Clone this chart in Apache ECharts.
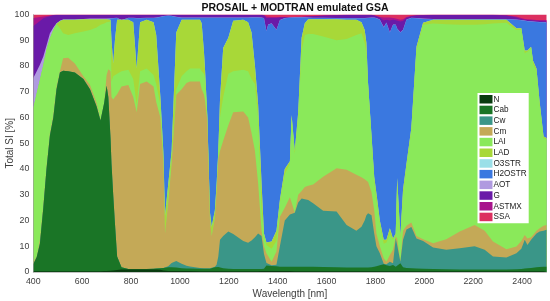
<!DOCTYPE html>
<html><head><meta charset="utf-8">
<style>html,body{margin:0;padding:0;background:#fff}#c{width:550px;height:301px}</style>
<script src="https://cdn.jsdelivr.net/npm/echarts@6/dist/echarts.min.js"></script></head>
<body><div id="c"></div>
<script>
const wavelengths=[400,414,427,441,454,468,482,495,509,522,
543,570,605,632,659,675,690,700,707,716,
720,727,734,743,761,789,809,823,837,864,892,
903,920,932,939,952,966,985,1007,1027,1041,
1082,1089,1098,1102,1112,1116,1123,1130,1143,1150,
1157,1164,1177,1198,1218,1259,1279,1293,1307,1320,
1334,1344,1354,1361,1375,1395,1409,1429,1450,1457,
1470,1484,1498,1511,1525,1545,1586,1641,1682,1722,
1743,1756,1763,1770,1784,1795,1804,1818,1834,1845,
1859,1872,1883,1889,1902,1913,1927,1947,1968,1995,
2036,2090,2145,2206,2247,2281,2336,2377,2397,2411,
2422,2437,2445,2459,2472,2488,2500];
// upper boundary of each stacked band
const topN=[.3,.3,.3,.3,.3,.3,.3,.3,.3,.3,
.3,.3,.3,.3,.3,.3,.4,.4,.4,.5,
.6,.6,.7,.8,1,1,1,1,1,1,1,
1,.9,.6,.5,.4,.4,.4,.4,.4,.4,
.3,.3,.3,.3,.3,.3,.3,.3,.3,.3,
.3,.3,.3,.3,.3,.3,.3,.3,.3,.3,
.4,.4,.4,.4,.4,.4,.4,.4,.4,.4,
.3,.3,.3,.3,.3,.3,.3,.3,.3,.3,
.3,.3,.3,.3,.3,.3,.3,.3,.3,.3,
.3,.3,.3,.3,.3,.3,.3,.3,.3,.3,
.3,.3,.3,.3,.3,.3,.3,.3,.3,.3,
.3,.3,.3,.3,.3,.3,.3];
const topCab=[3,5.8,11,25,40,53,60,71,77.5,78.2,
78,77.5,75,71,64.3,58.8,65.6,72.3,68,52,
42,30,19,6,1.8,1.2,1.2,1.2,1.2,1.2,1.3,
1.4,1.5,1.6,1.7,1.8,1.8,1.7,1.5,1.4,1.4,
1.3,1.3,1.3,1.3,1.3,1.3,1.3,1.5,1.8,1.9,
1.9,1.8,1.5,1.3,1.2,1.2,1.2,1.2,1.2,1.2,
1.2,1.3,2.5,2.9,2.3,2.2,2,2,2,2,
2,2,2,2,2,2,1.9,1.8,1.7,1.7,
1.7,1.7,1.7,1.7,1.8,2,2.2,2.6,3,2.6,
2.3,2.7,2,1.8,3.4,1.8,1.6,1.5,1.4,1.3,
1.2,1.1,1,1,1,1,1,1.1,1.2,1.4,
1.5,1.6,1.7,1.8,1.9,2,2];
const topCw=[3,5.8,11,25,40,53,60,71,77.5,78.2,
78,77.5,75,71,64.3,58.8,65.6,72.3,68,52,
42,30,19,6,1.8,1.2,1.2,1.2,1.2,1.2,1.3,
1.4,1.5,1.6,1.8,2.2,3.5,4.3,3.2,2.4,2.1,
1.6,1.6,1.5,1.5,1.5,1.5,1.5,1.6,2,2.8,
6,12.5,14,15.7,14.8,12,11.4,12.2,13.5,15,
14,7,3.5,3.1,2.6,2.8,10,20,22.3,22.7,
23,27,28.5,28.3,28,26.7,23.8,23.5,18.3,16,
17.6,20,22,22.8,22,15,10,7.3,3.2,3,
4,3.4,13,10.5,4,12.5,16.5,17.5,13,12,
9.5,8.6,9.2,10,8.6,6,5.6,7.3,9,12.5,
10.5,12.5,12.5,15,15.7,16,16.4];
const topCm=[4,6,12.5,26,41,54,61,72,78,83,
83.2,81,76,72.6,65.6,59,65.6,76.5,78.7,78,
68,67,68,69,72,72.6,68,62,73,74,72,
66,60,43,15,27,42,68.8,71,73.4,74,
74,71,69,67,59,45,20,14,21,31,
44,47,51,57,62,62.3,60,54,47,34.5,
16,10,7.3,7.3,4,8,21.5,25,29,27,
23,30,31.5,33,33.5,34,37,40.3,39.7,37.8,
36.8,36,35.8,35,31,24,15,10,5.3,4,
6.6,8.6,13.8,13,4,16,18,19.2,14,12.7,
11.2,12.7,15.7,18.3,16,11.8,8.8,9.9,12,14.4,
13,13.5,14.4,16,17,18,18.3];
const topLAI=[63.6,69.4,74.6,80.4,86.3,90.8,94,96.4,94.7,92.7,
92,92.7,93.4,94,95,96,96.5,97,97,97.3,
74,76,76.5,77,78,78.5,75,65,78,79,76.5,
73,65,45,15,30,45,71,76,78,79,
79,78,77,76,60,47,21.5,14.5,22,32,
46,60,68,77,78,78.5,78,75,73,60,
25,14,10.5,10.5,9,12,27,38,42,60,
46,60,86,92,92.4,92.4,91.5,90,90.5,92,
92.7,89,85,73,52,36,28,19,11,11.5,
15,12.5,14.5,34,13,30,41,55,86,96,
96.5,96.2,96,96,96.2,96.5,96.8,94,94,85,
85.5,87,81,78,65,52,51.5];
const topLAD=[63.6,69.4,74.6,80.4,86.3,90.8,94,96.4,97.5,98,
98,98,98.2,98.2,98.2,98.2,98.2,98.2,98.2,98,
90,81,90,98,98,98,97,79,97,98,97,
92,68,47,22,34,47,93,98,98,98,
98,96.6,86,80,61,47,23,17.6,24,34,
47,67,87,91,97.6,98,97,93,80,65,
34.5,15,11.5,11,11.8,16,28,40,43,61,
47,62,91,96.6,98.2,98.2,98.2,98.2,98,98,
97,94,89,73,53,37,30.6,20,12.5,12.5,
17,13,15,36.5,14,32,42,56,87.5,96.8,
98,98,98,98,98,98,98,94.7,94.7,86,
86,87.5,82,79,66,52.6,52];
const topH2O=[63.6,69.4,74.6,80.4,86.3,90.8,94,96.4,97.5,98,
98,98,98.2,98.3,98.3,98.3,98.3,98.3,98.3,98.4,
98.5,98.5,98.7,98.6,97.8,98.6,98.6,98.5,98.5,98.6,98.6,
98.7,99,99.3,99.4,99.5,99.4,99,98.7,98.7,98.7,
98.7,98.7,98.7,98.7,98.7,98.7,98.7,98.7,98.7,98.7,
98.7,98.7,98.7,98.7,98.7,98.7,98.7,98.8,98.8,98.8,
98.7,98.5,93.5,96,96.5,94,97.8,98.5,98.7,98.8,
98.8,98.8,98.8,98.8,98.7,98.6,98.6,98.5,98.5,98.5,
98.5,98.5,98.6,98.6,98.7,98.7,98.5,98,95,96.8,
93,96,96,94.5,93,94,98,98.6,98.5,98.3,
98.2,98.2,98.2,98.2,98.2,98.2,98.2,98,97.8,97.6,
97.4,97.3,97.2,97.1,97,97,96.9];
const topAOT=[75.3,78,80.5,83.7,88,92.7,95,96.6,97.6,98.1,
98.1,98.1,98.3,98.4,98.4,98.4,98.4,98.4,98.4,98.5,
98.6,98.6,98.8,98.7,97.9,98.7,98.7,98.6,98.6,98.7,98.7,
98.8,99.1,99.4,99.5,99.6,99.5,99.1,98.8,98.8,98.8,
98.8,98.8,98.8,98.8,98.8,98.8,98.8,98.8,98.8,98.8,
98.8,98.8,98.8,98.8,98.8,98.8,98.8,98.9,98.9,98.9,
98.8,98.6,93.6,96.1,96.6,94.1,97.9,98.6,98.8,98.9,
98.9,98.9,98.9,98.9,98.8,98.7,98.7,98.6,98.6,98.6,
98.6,98.6,98.7,98.7,98.8,98.8,98.6,98.1,95.1,96.9,
93.1,96.1,96.1,94.6,93.1,94.1,98.1,98.7,98.6,98.4,
98.3,98.3,98.3,98.3,98.3,98.3,98.3,98.1,97.9,97.7,
97.5,97.4,97.3,97.2,97.1,97.1,97];
const topG=[95.5,96.5,97.5,98.5,98.9,99.3,99.7,99.8,99.8,99.8,
99.8,99.8,99.8,99.8,99.8,99.8,99.8,99.8,99.8,99.8,
99.8,99.8,99.8,99.8,99.8,99.8,99.8,99.8,99.8,99.8,99.8,
99.8,99.8,99.8,99.8,99.8,99.8,99.8,99.8,99.8,99.8,
99.8,99.8,99.8,99.8,99.8,99.8,99.8,99.8,99.8,99.8,
99.8,99.8,99.8,99.8,99.8,99.8,99.8,99.8,99.8,99.8,
99.8,99.6,98.6,98.6,98.6,98.6,98.8,98.9,98.9,98.9,
98.9,99,99,99.1,99.2,99.3,99.5,99.7,99.8,99.8,
99.8,99.8,99.8,99.8,99.8,99.6,99.3,98.8,97.7,98,
97.7,98,97.8,97.5,97.3,97.5,98.7,99.3,99.6,99.7,
99.8,99.8,99.8,99.8,99.8,99.8,99.6,98.8,98.2,98,
97.9,97.8,97.7,97.6,97.5,97.4,97.3];
const topASTMX=[98.6,98.8,99,99.2,99.4,99.6,99.8,99.9,99.9,99.9,
99.9,99.9,99.9,99.9,99.9,99.9,99.9,99.9,99.9,99.9,
99.9,99.9,99.9,99.9,99.9,99.9,99.9,99.9,99.9,99.9,99.9,
99.9,99.9,99.9,99.9,99.9,99.9,99.9,99.9,99.9,99.9,
99.9,99.9,99.9,99.9,99.9,99.9,99.9,99.9,99.9,99.9,
99.9,99.9,99.9,99.9,99.9,99.9,99.9,99.9,99.9,99.9,
99.9,99.8,99.2,99,99,99,99,99,99,99,
99,99.1,99.1,99.2,99.3,99.4,99.6,99.8,99.9,99.9,
99.9,99.9,99.9,99.9,99.9,99.7,99.4,99,98.8,98.8,
98.8,98.6,98.4,98.2,98,98.2,99,99.5,99.7,99.8,
99.9,99.9,99.9,99.9,99.9,99.9,99.7,99.2,98.6,98.3,
98.2,98.1,98,97.9,97.9,97.9,97.9];
const topSSA=[100,100,100,100,100,100,100,100,100,100,
100,100,100,100,100,100,100,100,100,100,
100,100,100,100,100,100,100,100,100,100,100,
100,100,100,100,100,100,100,100,100,100,
100,100,100,100,100,100,100,100,100,100,
100,100,100,100,100,100,100,100,100,100,
100,100,100,100,100,100,100,100,100,100,
100,100,100,100,100,100,100,100,100,100,
100,100,100,100,100,100,100,100,100,100,
100,100,100,100,100,100,100,100,100,100,
100,100,100,100,100,100,100,100,100,100,
100,100,100,100,100,100,100];

const names=['N','Cab','Cw','Cm','LAI','LAD','O3STR','H2OSTR','AOT','G','ASTMX','SSA'];
const colors=['#093c10','#1a7526','#3a9688','#c4a957','#8ae95a','#a8d838','#9adfe8','#3a78e0','#b09ae0','#6a1aa8','#a8148c','#dc3060'];
// O3STR is too thin to see: its band shares the LAD boundary.
const tops=[topN,topCab,topCw,topCm,topLAI,topLAD,topLAD,topH2O,topAOT,topG,topASTMX,topSSA];
const series=names.map((n,k)=>({name:n,type:'line',showSymbol:false,symbol:'none',smooth:false,
    z:3+names.length-k,
    lineStyle:{width:0},itemStyle:{color:colors[k]},
    areaStyle:{color:colors[k],opacity:1},
    data:tops[k].map((v,i)=>[wavelengths[i],v])}));
const txt='#404040';
const chart=echarts.init(document.getElementById('c'),null,{renderer:'canvas'});
chart.setOption({
  animation:false,
  title:{text:'PROSAIL + MODTRAN emulated GSA',left:290,top:-2,textAlign:'center',
    textStyle:{fontFamily:'Liberation Sans',fontSize:10.5,fontWeight:'bold',color:'#111'}},
  grid:{left:33.3,right:3.5,top:14.5,bottom:29,outerBoundsMode:'none',containLabel:false},
  xAxis:{type:'value',min:400,max:2500,interval:200,name:'Wavelength [nm]',nameLocation:'middle',nameGap:17,nameMoveOverlap:false,
    z:30,nameTextStyle:{fontFamily:'Liberation Sans',fontSize:10,color:txt},
    axisLine:{lineStyle:{color:'#999',width:.6}},axisTick:{show:false},splitLine:{show:false},
    axisLabel:{showMaxLabel:false,fontFamily:'Liberation Sans',fontSize:8.8,color:txt,margin:5,formatter:v=>String(v)}},
  yAxis:{type:'value',min:0,max:100,interval:10,name:'Total SI [%]',nameLocation:'middle',nameGap:18,nameMoveOverlap:false,
    z:30,nameTextStyle:{fontFamily:'Liberation Sans',fontSize:10,color:txt},
    axisLine:{show:true,lineStyle:{color:'#999',width:.6}},axisTick:{show:false},splitLine:{show:false},
    axisLabel:{fontFamily:'Liberation Sans',fontSize:8.8,color:txt,margin:4}},
  legend:{orient:'vertical',left:477.5,top:93,z:40,backgroundColor:'#fff',padding:[2,2,2,2],
    icon:'rect',itemWidth:13,itemHeight:8.5,itemGap:2.2,selectedMode:false,
    textStyle:{fontFamily:'Liberation Sans',fontSize:8.2,color:'#222',padding:[0,0,0,-4]},data:names},
  series
});
</script></body></html>
